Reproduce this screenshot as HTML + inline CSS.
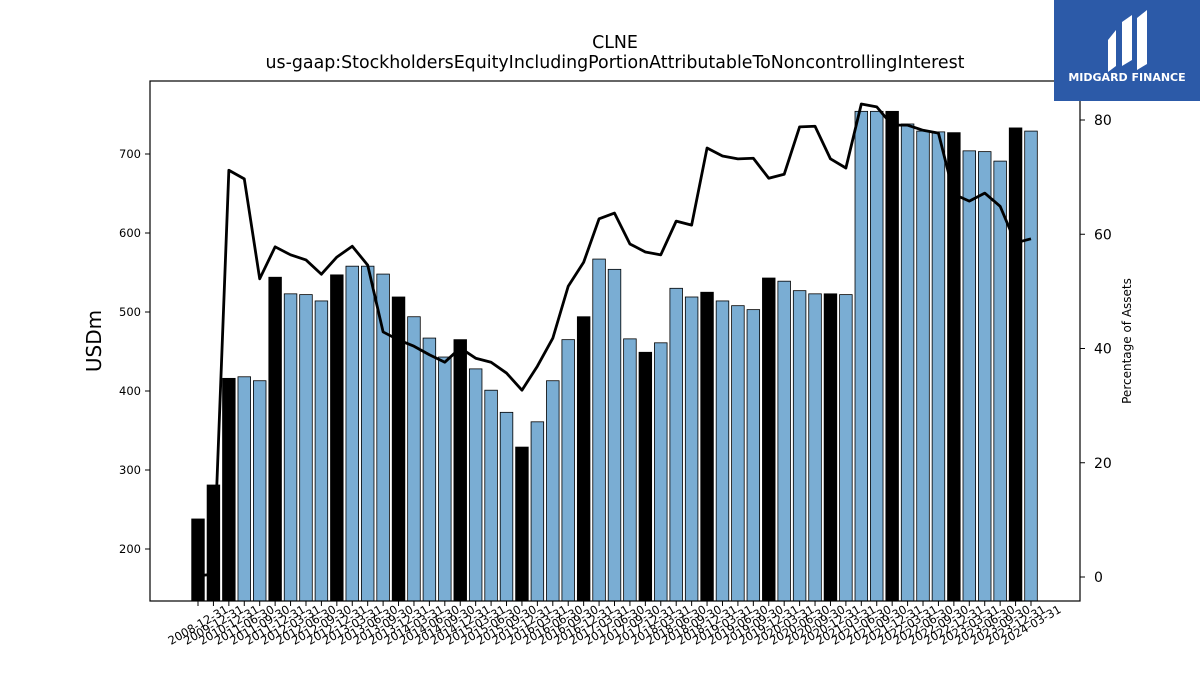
<!DOCTYPE html>
<html><head><meta charset="utf-8"><style>
body{margin:0;background:#fff;width:1200px;height:675px;overflow:hidden;font-family:"DejaVu Sans","Liberation Sans",sans-serif}
</style></head><body>
<svg id="chart" width="1200" height="675" xmlns="http://www.w3.org/2000/svg" style="position:absolute;left:0;top:0;font-family:'DejaVu Sans','Liberation Sans',sans-serif">
<text x="615" y="48" text-anchor="middle" font-size="17.4">CLNE</text>
<text x="615" y="68" text-anchor="middle" font-size="17.4">us-gaap:StockholdersEquityIncludingPortionAttributableToNoncontrollingInterest</text>
<text transform="translate(101,341) rotate(-90)" text-anchor="middle" font-size="20">USDm</text>
<text transform="translate(1131,341) rotate(-90)" text-anchor="middle" font-size="12">Percentage of Assets</text>
<g id="bars"></g><g id="xticks"></g><g id="yticks"></g>
<rect x="150" y="81" width="930" height="520" fill="none" stroke="#000" stroke-width="1.2"/>
<g>
<rect x="1054" y="0" width="146" height="101" fill="#2c5aa8"/>
<path d="M1108 40 L1116 30 L1116 66 L1108 72 Z M1122 22 L1132 15 L1132 60 L1122 66 Z M1137 18 L1147 10 L1147 64 L1137 70 Z" fill="#fff"/>
<text x="1127" y="81" text-anchor="middle" font-size="11" font-weight="bold" fill="#fff">MIDGARD FINANCE</text>
</g>
</svg>
<script>
const categories=["2008-12-31","2009-12-31","2010-12-31","2011-06-30","2011-09-30","2011-12-31","2012-03-31","2012-06-30","2012-09-30","2012-12-31","2013-03-31","2013-06-30","2013-09-30","2013-12-31","2014-03-31","2014-06-30","2014-09-30","2014-12-31","2015-03-31","2015-06-30","2015-09-30","2015-12-31","2016-03-31","2016-06-30","2016-09-30","2016-12-31","2017-03-31","2017-06-30","2017-09-30","2017-12-31","2018-03-31","2018-06-30","2018-09-30","2018-12-31","2019-03-31","2019-06-30","2019-09-30","2019-12-31","2020-03-31","2020-06-30","2020-09-30","2020-12-31","2021-03-31","2021-06-30","2021-09-30","2021-12-31","2022-03-31","2022-06-30","2022-09-30","2022-12-31","2023-03-31","2023-06-30","2023-09-30","2023-12-31","2024-03-31"];
const equity=[238,281,416,418,413,544,523,522,514,547,558,558,548,519,494,467,443,465,428,401,373,329,361,413,465,494,567,554,466,449,461,530,519,525,514,508,503,543,539,527,523,523,522,754,754,754,738,729,728,727,704,703,691,733,729];
const pctAssets=[0.2,0.5,71.2,69.7,52.2,57.8,56.4,55.5,53.0,56.0,57.9,54.6,42.9,41.5,40.4,38.9,37.6,40.1,38.3,37.6,35.7,32.7,36.9,41.8,50.9,55.1,62.7,63.7,58.3,56.9,56.4,62.3,61.6,75.1,73.7,73.2,73.3,69.8,70.5,78.8,78.9,73.2,71.6,82.8,82.3,79.1,79.1,78.2,77.7,67.0,65.8,67.2,64.9,58.5,59.2];
const leftTicks=[200,300,400,500,600,700];
const rightTicks=[0,20,40,60,80];
const NS="http://www.w3.org/2000/svg";
const yL=v=>549-(v-200)*0.79;
const yR=v=>577-v*5.7125;
const xC=i=>198+i*(1031-198)/(categories.length-1);
const bottom=601;
function mk(t,a,p){const e=document.createElementNS(NS,t);for(const k in a)e.setAttribute(k,a[k]);p.appendChild(e);return e;}
const gb=document.getElementById('bars'),gx=document.getElementById('xticks'),gy=document.getElementById('yticks');
const bw=12.6;
categories.forEach((c,i)=>{
 const x=xC(i),y=yL(equity[i]);
 const dec=c.endsWith('12-31');
 const r=mk('rect',{x:x-bw/2,y:y,width:bw,height:bottom-y,fill:dec?'#000':'#7aadd3',stroke:'#000','stroke-width':0.8},gb);
 
 
 mk('line',{x1:x,x2:x,y1:bottom,y2:bottom+5,stroke:'#000'},gx);
 const t=mk('text',{x:0,y:4,transform:`translate(${x},${bottom+24}) rotate(-30)`,'text-anchor':'middle','font-size':11.5},gx);
 t.textContent=c;
 
 
});
let d='';pctAssets.forEach((v,i)=>{d+=(i?'L':'M')+xC(i)+' '+yR(v)+' ';});
const ln=mk('path',{d:d,fill:'none',stroke:'#000','stroke-width':2.8,'stroke-linejoin':'round'},gb);


leftTicks.forEach(v=>{const y=yL(v);mk('line',{x1:145,x2:150,y1:y,y2:y,stroke:'#000'},gy);
 const t=mk('text',{x:141,y:y+4,'text-anchor':'end','font-size':11.5},gy);t.textContent=v;
 
 });
rightTicks.forEach(v=>{const y=yR(v);mk('line',{x1:1080,x2:1085,y1:y,y2:y,stroke:'#000'},gy);
 const t=mk('text',{x:1094,y:y+5,'font-size':14},gy);t.textContent=v;
 
 });
</script>
</body></html>
